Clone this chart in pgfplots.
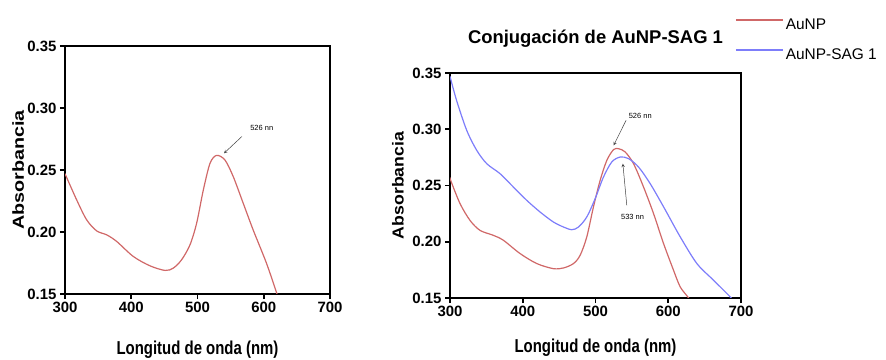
\documentclass[border=0pt]{standalone}
\usepackage{pgfplots}
\pgfplotsset{compat=1.18}
\usepackage{fontspec}
\setmainfont{Liberation Sans}
\definecolor{cred}{RGB}{208,104,104}
\definecolor{cblue}{RGB}{125,125,250}
\pgfplotsset{
  myaxis/.style={
    scale only axis,
    anchor=south west,
    xmin=300, xmax=700, ymin=0.15, ymax=0.35,
    xtick={300,400,500,600,700},
    ytick={0.15,0.20,0.25,0.30,0.35},
    axis line style={line width=1.6bp, black},
    every tick/.style={line width=1.6bp, black},
    major tick length=5bp,
    tick align=outside,
    xtick pos=bottom, ytick pos=left,
    /pgf/number format/assume math mode=true,
    yticklabel style={/pgf/number format/.cd,fixed,fixed zerofill,precision=2},
    xticklabel style={/pgf/number format/.cd,fixed,set thousands separator={}},
    tick label style={font=\fontsize{15}{17}\selectfont\bfseries},
    label style={font=\fontsize{15}{17}\selectfont\bfseries},
    xlabel={Longitud de onda (nm)},
    ylabel={Absorbancia},
    clip=true,
  }
}
\begin{document}
\begin{tikzpicture}
\path[use as bounding box] (0,0) rectangle (886bp,360bp);
% Left axis
\begin{axis}[myaxis,
  at={(65bp,66bp)}, width=265bp, height=248bp,
  xlabel style={at={(axis description cs:0.5,-0.226)}, anchor=center, yscale=1.25},
  ylabel style={at={(axis description cs:-0.177,0.5)}, anchor=center, font=\fontsize{16}{18}\selectfont\bfseries, xscale=1.24},
]
\addplot[cred, line width=1.2bp, smooth] coordinates {
(300,0.247) (317.6,0.2259) (332.7,0.2098) (347.8,0.2009) (362.9,0.1977)
(378,0.1924) (403,0.1803) (428,0.1728) (451,0.169) (463.5,0.1709)
(476,0.1776) (488.7,0.1897) (498.7,0.2071) (508.8,0.2339) (518.9,0.2554)
(528.9,0.2618) (541.5,0.258) (554,0.2446) (569,0.2232) (584,0.2017)
(604,0.175) (619.5,0.1508) (622,0.146)
};
\node[font=\fontsize{7.5}{8}\selectfont, anchor=center] at (axis cs:597,0.284) {526 nn};
\draw[-stealth, black!75, line width=0.5bp] (axis cs:567,0.277) -- (axis cs:540,0.2635);
\end{axis}
% Right axis
\begin{axis}[myaxis,
  at={(450bp,62bp)}, width=291bp, height=225bp,
  xlabel style={at={(axis description cs:0.5,-0.222)}, anchor=center, yscale=1.25},
  ylabel style={at={(axis description cs:-0.179,0.5)}, anchor=center, font=\fontsize{16}{18}\selectfont\bfseries, xscale=1.11},
  title={Conjugación de AuNP-SAG 1},
  title style={font=\fontsize{18.5}{20}\selectfont\bfseries, at={(axis description cs:0.5,1)}, anchor=center, yshift=28bp},
  legend style={draw=none, fill=none, at={(rel axis cs:0.979,1.25)}, anchor=north west,
    font=\fontsize{15.5}{17}\selectfont, row sep=14bp, inner sep=0pt,
    legend cell align=left},
]
\addplot[cred, line width=1.2bp, smooth,
  legend image code/.code={\draw[draw=cred, line width=1.5bp] (0bp,5bp) -- (47bp,5bp);}] coordinates {
(300,0.2575) (300.9,0.2546) (313.8,0.2339) (327.5,0.219) (341.3,0.2101) (359.6,0.2057)
(373.4,0.2013) (396.3,0.1895) (419.3,0.1806) (442,0.1761) (456,0.1767)
(469.7,0.1806) (478.9,0.188) (488,0.2043) (497.2,0.231) (506.4,0.2546)
(515.6,0.2724) (524.8,0.2819) (531.7,0.2827) (540.8,0.2798) (552.3,0.2694)
(566,0.2487) (579.8,0.225) (593.6,0.1983) (607.3,0.1746) (616.5,0.1598)
(628,0.15) (631,0.145)
};
\addlegendentry{AuNP}
\addplot[cblue, line width=1.2bp, smooth,
  legend image code/.code={\draw[draw=cblue, line width=1.7bp] (0bp,5bp) -- (47bp,5bp);}] coordinates {
(300,0.347) (309,0.3257) (323,0.299) (336.7,0.2813) (350.5,0.2694)
(368.8,0.2605) (387,0.2487) (405.5,0.2368) (423.9,0.2264) (442,0.2176)
(456,0.2131) (467.4,0.2107) (476.6,0.2131) (488,0.222) (499.5,0.2383)
(511,0.2576) (522.5,0.271) (534,0.2753) (545.4,0.2739) (559.2,0.2664)
(575.2,0.2516) (593.6,0.231) (616.5,0.2043) (639.4,0.1806) (662.4,0.1657)
(685.3,0.1509) (690,0.147)
};
\addlegendentry{AuNP-SAG 1}
\node[font=\fontsize{7.5}{8}\selectfont, anchor=center] at (axis cs:561.5,0.3115) {526 nn};
\draw[-stealth, black!75, line width=0.5bp] (axis cs:542,0.3079) -- (axis cs:525,0.2857);
\node[font=\fontsize{7.5}{8}\selectfont, anchor=center] at (axis cs:551,0.222) {533 nn};
\draw[-stealth, black!75, line width=0.5bp] (axis cs:543,0.2324) -- (axis cs:537.6,0.2694);
\end{axis}
\end{tikzpicture}
\end{document}
